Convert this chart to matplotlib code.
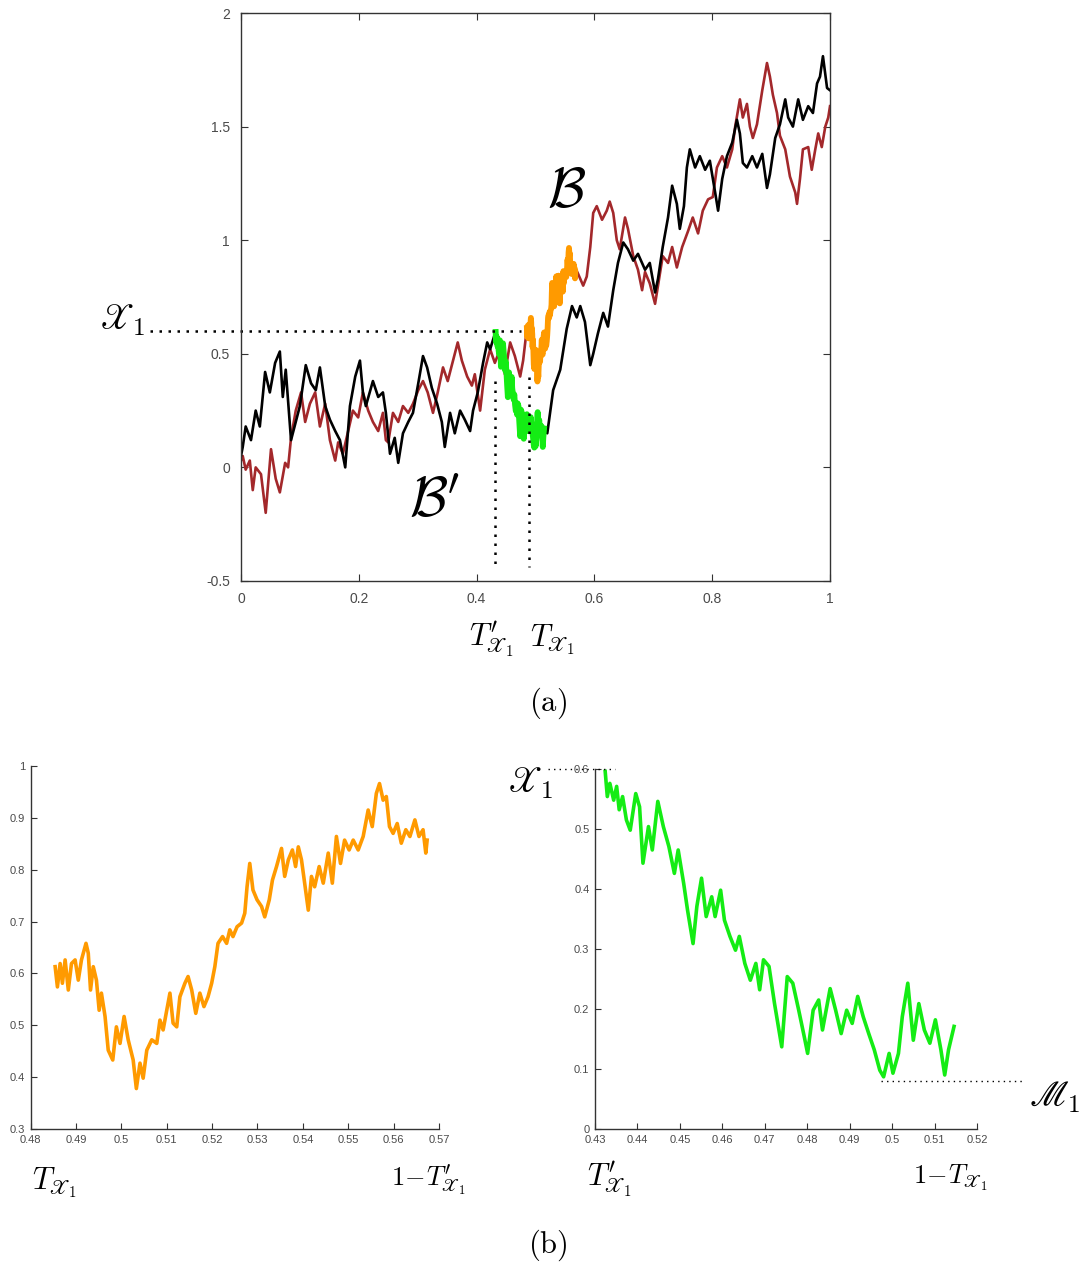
import matplotlib
matplotlib.use("Agg")
import matplotlib.pyplot as plt

plt.rcParams['mathtext.fontset'] = 'cm'
plt.rcParams['font.family'] = ['Liberation Sans', 'DejaVu Sans']

# ---------------- data ----------------
# black path before T'_X1
black_before_t = [0.000, 0.003, 0.008, 0.017, 0.025, 0.032, 0.041, 0.049, 0.058, 0.066, 0.071, 0.076,
                  0.085, 0.093, 0.100, 0.110, 0.119, 0.127, 0.134, 0.143, 0.151, 0.160, 0.168, 0.177,
                  0.185, 0.194, 0.202, 0.207, 0.212, 0.224, 0.233, 0.241, 0.246, 0.253, 0.261, 0.267,
                  0.275, 0.284, 0.292, 0.301, 0.309, 0.316, 0.324, 0.333, 0.341, 0.346, 0.355, 0.363,
                  0.372, 0.380, 0.389, 0.394, 0.402, 0.411, 0.418, 0.423, 0.432]
black_before_y = [0.05, 0.09, 0.18, 0.12, 0.25, 0.18, 0.42, 0.33, 0.46, 0.51, 0.31, 0.43,
                  0.12, 0.20, 0.27, 0.45, 0.37, 0.34, 0.44, 0.27, 0.21, 0.16, 0.12, 0.00,
                  0.27, 0.40, 0.47, 0.33, 0.27, 0.38, 0.31, 0.33, 0.24, 0.06, 0.13, 0.02,
                  0.15, 0.20, 0.24, 0.37, 0.49, 0.44, 0.35, 0.28, 0.20, 0.09, 0.24, 0.15,
                  0.25, 0.21, 0.16, 0.25, 0.33, 0.46, 0.55, 0.52, 0.596]

# green segment (black path between T'_X1 and 1 - T_X1)
green_t = [0.4324, 0.4329, 0.4335, 0.4344, 0.4351, 0.4357, 0.4365, 0.4374, 0.4383, 0.4396, 0.4405,
           0.4413, 0.4426, 0.4435, 0.4448, 0.4461, 0.4474, 0.4487, 0.4496, 0.4509, 0.4518, 0.4531,
           0.4540, 0.4551, 0.4562, 0.4575, 0.4583, 0.4596, 0.4605, 0.4618, 0.4631, 0.4640, 0.4653,
           0.4666, 0.4679, 0.4688, 0.4697, 0.4710, 0.4723, 0.4740, 0.4753, 0.4766, 0.4780, 0.4793,
           0.4801, 0.4814, 0.4827, 0.4836, 0.4854, 0.4867, 0.4880, 0.4893, 0.4906, 0.4919, 0.4932,
           0.4945, 0.4958, 0.4971, 0.4980, 0.4993, 0.5002, 0.5015, 0.5024, 0.5037, 0.5050, 0.5063,
           0.5076, 0.5089, 0.5102, 0.5115, 0.5124, 0.5133, 0.5146]
green_y = [0.596, 0.554, 0.576, 0.548, 0.571, 0.532, 0.554, 0.515, 0.498, 0.559, 0.537,
           0.443, 0.504, 0.465, 0.546, 0.504, 0.471, 0.426, 0.465, 0.409, 0.365, 0.309,
           0.371, 0.418, 0.354, 0.387, 0.354, 0.398, 0.348, 0.321, 0.298, 0.321, 0.276,
           0.248, 0.276, 0.232, 0.282, 0.271, 0.209, 0.137, 0.254, 0.243, 0.198, 0.154,
           0.126, 0.198, 0.215, 0.165, 0.234, 0.198, 0.159, 0.198, 0.176, 0.221, 0.187,
           0.159, 0.132, 0.098, 0.087, 0.126, 0.093, 0.126, 0.187, 0.243, 0.148, 0.209,
           0.165, 0.143, 0.182, 0.132, 0.090, 0.132, 0.171]

# black path after 1 - T_X1
black_after_t = [0.5146, 0.520, 0.530, 0.542, 0.553, 0.562, 0.570, 0.576, 0.584, 0.593, 0.598, 0.606,
                 0.615, 0.623, 0.632, 0.640, 0.649, 0.657, 0.666, 0.674, 0.686, 0.694, 0.703,
                 0.708, 0.716, 0.725, 0.732, 0.740, 0.745, 0.752, 0.757, 0.762, 0.771, 0.779,
                 0.788, 0.796, 0.805, 0.810, 0.817, 0.825, 0.834, 0.842, 0.847, 0.852, 0.859,
                 0.868, 0.876, 0.885, 0.893, 0.898, 0.907, 0.915, 0.924, 0.929, 0.937, 0.946,
                 0.954, 0.963, 0.971, 0.978, 0.983, 0.988, 0.995, 1.000]
black_after_y = [0.171, 0.15, 0.34, 0.43, 0.61, 0.71, 0.66, 0.71, 0.64, 0.45, 0.50, 0.59,
                 0.68, 0.62, 0.78, 0.90, 0.99, 0.96, 0.91, 0.94, 0.87, 0.90, 0.77,
                 0.83, 0.97, 1.10, 1.24, 1.16, 1.05, 1.15, 1.32, 1.40, 1.32, 1.37,
                 1.31, 1.35, 1.21, 1.13, 1.27, 1.37, 1.43, 1.53, 1.47, 1.34, 1.32,
                 1.37, 1.32, 1.38, 1.23, 1.29, 1.45, 1.51, 1.62, 1.54, 1.50, 1.62,
                 1.53, 1.59, 1.56, 1.69, 1.72, 1.81, 1.67, 1.66]

# red path before T_X1
red_before_t = [0.000, 0.003, 0.008, 0.015, 0.020, 0.025, 0.034, 0.042, 0.051, 0.059, 0.066, 0.075,
                0.080, 0.085, 0.093, 0.102, 0.109, 0.117, 0.126, 0.134, 0.143, 0.151, 0.160, 0.165,
                0.173, 0.182, 0.190, 0.199, 0.207, 0.216, 0.224, 0.233, 0.241, 0.246, 0.250, 0.258,
                0.267, 0.275, 0.284, 0.292, 0.301, 0.309, 0.317, 0.326, 0.334, 0.343, 0.351, 0.360,
                0.368, 0.375, 0.384, 0.392, 0.397, 0.406, 0.414, 0.423, 0.431, 0.440, 0.448, 0.457,
                0.465, 0.474, 0.479, 0.4854]
red_before_y = [0.03, 0.05, -0.01, 0.03, -0.10, 0.00, -0.03, -0.20, 0.08, -0.05, -0.11, 0.02,
                0.00, 0.13, 0.25, 0.33, 0.20, 0.28, 0.33, 0.18, 0.28, 0.12, 0.03, 0.11,
                0.06, 0.16, 0.25, 0.22, 0.33, 0.25, 0.20, 0.16, 0.24, 0.12, 0.11, 0.24,
                0.20, 0.27, 0.24, 0.28, 0.34, 0.38, 0.33, 0.24, 0.33, 0.44, 0.38, 0.47,
                0.55, 0.47, 0.40, 0.36, 0.41, 0.25, 0.43, 0.52, 0.46, 0.52, 0.41, 0.55,
                0.49, 0.40, 0.47, 0.613]

# orange segment (red path between T_X1 and 1 - T'_X1)
orange_t = [0.4854, 0.4859, 0.4865, 0.4870, 0.4876, 0.4883, 0.4890, 0.4898, 0.4905, 0.4912, 0.4922,
            0.4927, 0.4932, 0.4938, 0.4945, 0.4951, 0.4956, 0.4964, 0.4971, 0.4981, 0.4989, 0.4997,
            0.5006, 0.5015, 0.5026, 0.5033, 0.5041, 0.5048, 0.5056, 0.5067, 0.5078, 0.5085, 0.5092,
            0.5100, 0.5107, 0.5114, 0.5122, 0.5129, 0.5140, 0.5147, 0.5155, 0.5164, 0.5173, 0.5182,
            0.5191, 0.5199, 0.5206, 0.5213, 0.5223, 0.5232, 0.5239, 0.5246, 0.5255, 0.5265, 0.5272,
            0.5277, 0.5283, 0.5290, 0.5299, 0.5309, 0.5316, 0.5326, 0.5333, 0.5342, 0.5353, 0.5360,
            0.5368, 0.5377, 0.5384, 0.5390, 0.5397, 0.5404, 0.5412, 0.5419, 0.5426, 0.5436, 0.5445,
            0.5456, 0.5465, 0.5474, 0.5483, 0.5492, 0.5502, 0.5511, 0.5522, 0.5533, 0.5544, 0.5553,
            0.5562, 0.5569, 0.5577, 0.5584, 0.5591, 0.5599, 0.5608, 0.5617, 0.5627, 0.5636, 0.5647,
            0.5656, 0.5665, 0.5671, 0.5674]
orange_y = [0.613, 0.574, 0.619, 0.581, 0.626, 0.568, 0.619, 0.626, 0.587, 0.626, 0.658,
            0.639, 0.568, 0.613, 0.587, 0.529, 0.562, 0.517, 0.452, 0.433, 0.497, 0.465,
            0.517, 0.472, 0.433, 0.378, 0.427, 0.398, 0.452, 0.472, 0.465, 0.510, 0.491,
            0.529, 0.562, 0.504, 0.497, 0.555, 0.581, 0.594, 0.568, 0.523, 0.562, 0.536,
            0.555, 0.581, 0.613, 0.658, 0.671, 0.658, 0.684, 0.671, 0.690, 0.697, 0.716,
            0.767, 0.812, 0.761, 0.742, 0.729, 0.709, 0.742, 0.780, 0.806, 0.841, 0.787,
            0.819, 0.838, 0.806, 0.844, 0.819, 0.774, 0.722, 0.787, 0.767, 0.806, 0.774,
            0.832, 0.774, 0.864, 0.812, 0.857, 0.838, 0.857, 0.838, 0.864, 0.915, 0.883,
            0.947, 0.966, 0.934, 0.941, 0.883, 0.870, 0.889, 0.851, 0.877, 0.864, 0.896,
            0.864, 0.877, 0.832, 0.857]

# red path after 1 - T'_X1
red_after_t = [0.5674, 0.571, 0.576, 0.581, 0.587, 0.593, 0.598, 0.604, 0.613, 0.621, 0.626, 0.632,
               0.638, 0.643, 0.652, 0.657, 0.666, 0.674, 0.681, 0.686, 0.694, 0.703, 0.708,
               0.716, 0.725, 0.732, 0.740, 0.749, 0.759, 0.767, 0.776, 0.784, 0.793, 0.801,
               0.808, 0.817, 0.825, 0.834, 0.839, 0.847, 0.852, 0.859, 0.864, 0.869, 0.876,
               0.885, 0.893, 0.898, 0.903, 0.910, 0.915, 0.924, 0.932, 0.941, 0.944, 0.949,
               0.954, 0.963, 0.969, 0.975, 0.980, 0.986, 0.992, 0.997, 1.000]
red_after_y = [0.857, 0.86, 0.83, 0.80, 0.84, 0.97, 1.12, 1.15, 1.09, 1.13, 1.17, 1.12,
               1.00, 0.96, 1.10, 1.05, 0.93, 0.87, 0.78, 0.86, 0.81, 0.72, 0.80,
               0.93, 0.90, 0.97, 0.88, 0.97, 1.04, 1.10, 1.03, 1.13, 1.18, 1.19,
               1.32, 1.37, 1.32, 1.40, 1.50, 1.62, 1.54, 1.60, 1.50, 1.45, 1.51,
               1.66, 1.78, 1.72, 1.64, 1.56, 1.46, 1.40, 1.28, 1.21, 1.16, 1.27,
               1.40, 1.41, 1.31, 1.40, 1.47, 1.41, 1.50, 1.54, 1.59]

# annotation levels / times
X1_level = 0.6
M1_level = 0.08
T_prime_X1 = 0.432
T_X1 = 0.4854

top_xticks = [0, 0.2, 0.4, 0.6, 0.8, 1]
top_xticklabels = ['0', '0.2', '0.4', '0.6', '0.8', '1']
top_yticks = [-0.5, 0, 0.5, 1, 1.5, 2]
top_yticklabels = ['-0.5', '0', '0.5', '1', '1.5', '2']
bl_xticks = [0.48, 0.49, 0.50, 0.51, 0.52, 0.53, 0.54, 0.55, 0.56, 0.57]
bl_xticklabels = ['0.48', '0.49', '0.5', '0.51', '0.52', '0.53', '0.54', '0.55', '0.56', '0.57']
bl_yticks = [0.3, 0.4, 0.5, 0.6, 0.7, 0.8, 0.9, 1.0]
bl_yticklabels = ['0.3', '0.4', '0.5', '0.6', '0.7', '0.8', '0.9', '1']
br_xticks = [0.43, 0.44, 0.45, 0.46, 0.47, 0.48, 0.49, 0.50, 0.51, 0.52]
br_xticklabels = ['0.43', '0.44', '0.45', '0.46', '0.47', '0.48', '0.49', '0.5', '0.51', '0.52']
br_yticks = [0, 0.1, 0.2, 0.3, 0.4, 0.5, 0.6]
br_yticklabels = ['0', '0.1', '0.2', '0.3', '0.4', '0.5', '0.6']

# ---------------- colours ----------------
C_RED = '#a3282b'
C_BLACK = '#000000'
C_GREEN = '#14ec14'
C_ORANGE = '#ff9a00'
TICK_GRAY = '#4a4a4a'

fig = plt.figure(figsize=(10.83, 12.66), dpi=100)

# ---------------- top panel ----------------
ax = fig.add_axes([0.2225, 0.5411, 0.5439, 0.4486])
ax.plot(red_before_t, red_before_y, color=C_RED, lw=1.9)
ax.plot(red_after_t, red_after_y, color=C_RED, lw=1.9)
ax.plot(black_before_t, black_before_y, color=C_BLACK, lw=1.9)
ax.plot(black_after_t, black_after_y, color=C_BLACK, lw=1.9)
ax.plot(orange_t, orange_y, color=C_ORANGE, lw=4.2, solid_joinstyle='round')
ax.plot(green_t, green_y, color=C_GREEN, lw=4.2, solid_joinstyle='round')
ax.set_xlim(0, 1)
ax.set_ylim(-0.5, 2)
ax.set_xticks(top_xticks)
ax.set_xticklabels(top_xticklabels)
ax.set_yticks(top_yticks)
ax.set_yticklabels(top_yticklabels)
ax.tick_params(direction='in', length=5, width=0.8, top=True, right=True,
               labelsize=10, labelcolor=TICK_GRAY, color='#333333', pad=8)
for s in ax.spines.values():
    s.set_linewidth(1.0)
    s.set_color('#333333')

dot = (0, (1, 2.6))
ax.plot([-0.155, 0.475], [X1_level, X1_level], color='k', lw=1.8, ls=dot, clip_on=False)
ax.plot([T_prime_X1, T_prime_X1], [0.38, -0.44], color='k', lw=1.8, ls=dot, clip_on=False)
ax.plot([T_X1 + 0.004, T_X1 + 0.004], [0.40, -0.44], color='k', lw=1.8, ls=dot, clip_on=False)

# ---------------- bottom-left panel ----------------
ax2 = fig.add_axes([0.0283, 0.1082, 0.3770, 0.2868])
ax2.plot(orange_t, orange_y, color=C_ORANGE, lw=2.6)
ax2.set_xlim(0.48, 0.57)
ax2.set_ylim(0.3, 1.0)
ax2.set_xticks(bl_xticks)
ax2.set_xticklabels(bl_xticklabels)
ax2.set_yticks(bl_yticks)
ax2.set_yticklabels(bl_yticklabels)

# ---------------- bottom-right panel ----------------
ax3 = fig.add_axes([0.5494, 0.1082, 0.3527, 0.2844])
ax3.plot(green_t, green_y, color=C_GREEN, lw=2.6)
ax3.set_xlim(0.43, 0.52)
ax3.set_ylim(0, 0.6)
ax3.set_xticks(br_xticks)
ax3.set_xticklabels(br_xticklabels)
ax3.set_yticks(br_yticks)
ax3.set_yticklabels(br_yticklabels)
ax3.plot([0.419, 0.4347], [X1_level, X1_level], color='k', lw=1.0, ls=(0, (1, 3)), clip_on=False)
ax3.plot([0.4975, 0.5307], [M1_level, M1_level], color='k', lw=1.0, ls=(0, (1, 3)), clip_on=False)

for a in (ax2, ax3):
    a.spines['top'].set_visible(False)
    a.spines['right'].set_visible(False)
    for s in ('left', 'bottom'):
        a.spines[s].set_linewidth(1.0)
        a.spines[s].set_color('#333333')
    a.tick_params(direction='in', length=4, width=0.8, labelsize=8,
                  labelcolor=TICK_GRAY, color='#333333', pad=4)

# ---------------- math labels ----------------
X1 = r'$\mathscr{X}_1$'
fig.text(0.1127, 0.7472, X1, fontsize=26, ha='center', va='center')
fig.text(0.5235, 0.8476, r'$\mathcal{B}$', fontsize=40, ha='center', va='center')
fig.text(0.4017, 0.6027, r"$\mathcal{B}'$", fontsize=40, ha='center', va='center')
fig.text(0.4543, 0.4945, r"$T^{\prime}_{\mathscr{X}_1}$", fontsize=22, ha='center', va='center')
fig.text(0.5106, 0.4945, r"$T_{\mathscr{X}_1}$", fontsize=22, ha='center', va='center')
fig.text(0.506, 0.4447, r'$(\mathrm{a})$', fontsize=22, ha='center', va='center')
fig.text(0.0508, 0.0656, r"$T_{\mathscr{X}_1}$", fontsize=22, ha='center', va='center')
fig.text(0.3952, 0.0679, r"$1\!-\!T^{\prime}_{\mathscr{X}_1}$", fontsize=19, ha='center', va='center')
fig.text(0.5633, 0.0679, r"$T^{\prime}_{\mathscr{X}_1}$", fontsize=22, ha='center', va='center')
fig.text(0.8772, 0.0695, r"$1\!-\!T_{\mathscr{X}_1}$", fontsize=19, ha='center', va='center')
fig.text(0.506, 0.0166, r'$(\mathrm{b})$', fontsize=22, ha='center', va='center')
fig.text(0.4894, 0.3815, X1, fontsize=26, ha='center', va='center')
fig.text(0.9741, 0.1335, r'$\mathscr{M}_1$', fontsize=26, ha='center', va='center')

fig.savefig('out.png', dpi=100)
